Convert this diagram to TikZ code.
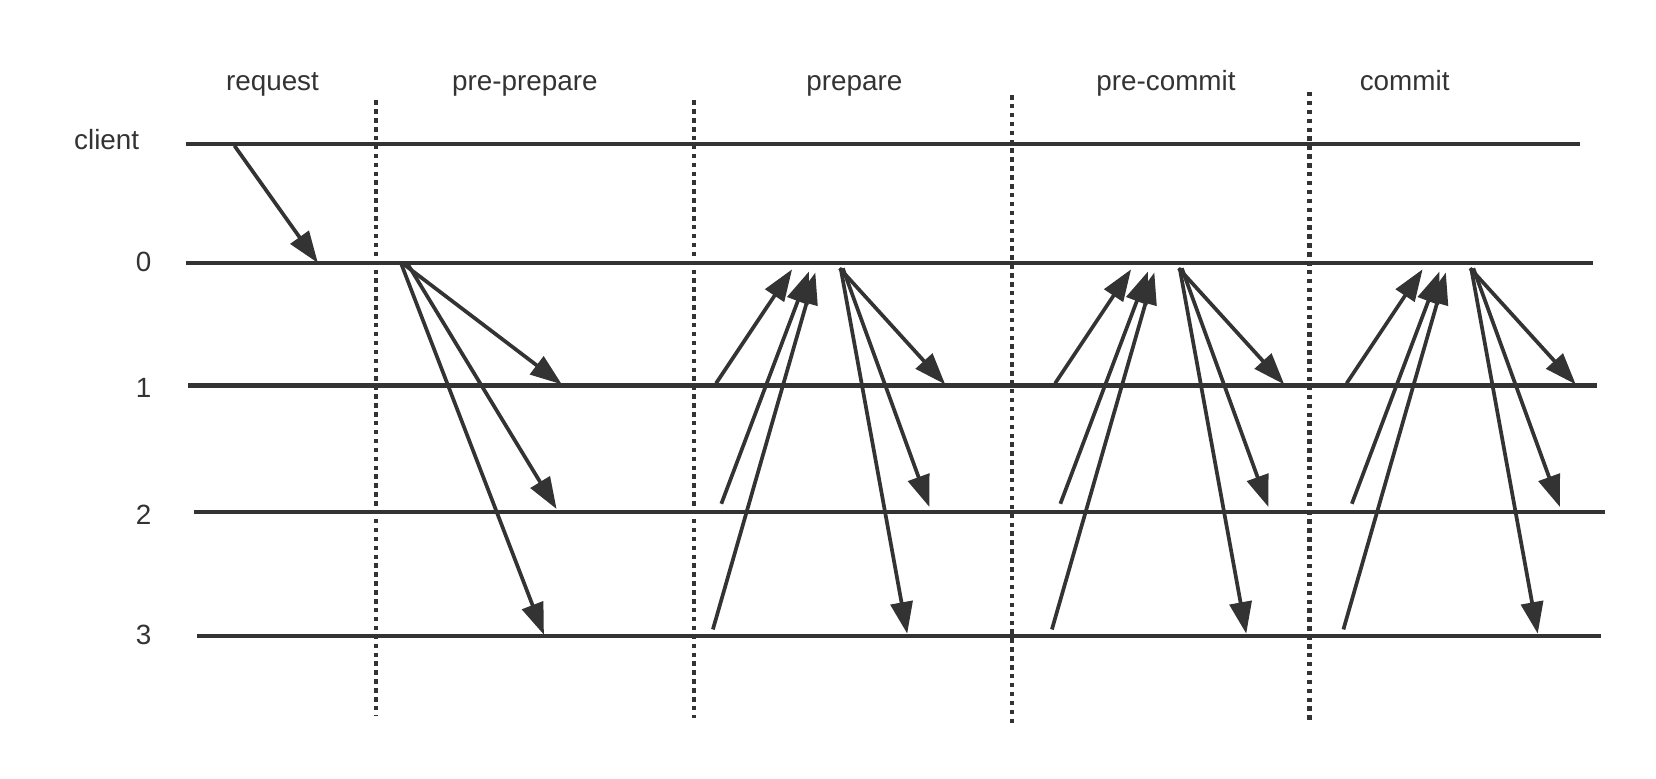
\documentclass[tikz,border=0pt]{standalone}
\usepackage{fontspec}
\setmainfont{Liberation Sans}
\usetikzlibrary{arrows.meta}
\definecolor{ink}{HTML}{333333}
\begin{document}
\begin{tikzpicture}[x=0.02cm, y=-0.02cm, font=\fontsize{15}{18}\selectfont, line join=round, >={Triangle[length=0.6cm,width=0.42cm]}, color=ink, line width=2.3pt]
	\tikzset{msg/.style={->, line width=2pt}, phasesep/.style={line width=2.4pt, dash pattern=on 2.4pt off 2.4pt}}
	\useasboundingbox (0,0) rectangle (1568,737);
	\foreach \n/\t/\lx/\ly/\a/\b/\y in {c/client/101/142/176/1496/136, 0/0/136/257/176/1508/249, 1/1/136/376/178/1512/365, 2/2/136/497/184/1520/485, 3/3/136/610/187/1516/602}{
		\node[anchor=base] (l\n) at (\lx,\ly) {\t};
		\coordinate (r\n-a) at (\a,\y);
		\coordinate (r\n-b) at (\b,\y);
		\draw (r\n-a) -- (r\n-b);
	}
	\foreach \n/\t/\x in {rq/request/258, pp/pre-prepare/497, pr/prepare/809, pc/pre-commit/1104, cm/commit/1330}
		\node[anchor=base] (\n) at (\x,86) {\t};
	\foreach \i/\x/\ya/\yb in {1/356/95/678, 2/657/95/680, 3/958/90/686, 4/1240/87/684}{
		\coordinate (d\i-a) at (\x,\ya);
		\coordinate (d\i-b) at (\x,\yb);
		\draw[phasesep] (d\i-a) -- (d\i-b);
	}
	\coordinate (rq-s) at (222,138);
	\coordinate (rq-t) at (301,249);
	\draw[msg] (rq-s) -- (rq-t);
	\foreach \i/\sx/\tx/\ty in {1/382/532/364, 2/386/527/482, 3/380/515/601}{
		\coordinate (pp\i-s) at (\sx,250);
		\coordinate (pp\i-t) at (\tx,\ty);
		\draw[msg] (pp\i-s) -- (pp\i-t);
	}
	\foreach \dx/\ph in {0/pr, 321/pc, 597/cm}
		\foreach \sx/\sy/\tx/\ty [count=\i] in {678/363/750/255, 683/477/766/257, 675/596/772/258, 795/254/895/364, 798/254/880/480, 796/254/859/600}{
			\coordinate (\ph\i-s) at (\sx+\dx,\sy);
			\coordinate (\ph\i-t) at (\tx+\dx,\ty);
			\draw[msg] (\ph\i-s) -- (\ph\i-t);
		}
\end{tikzpicture}
\end{document}
